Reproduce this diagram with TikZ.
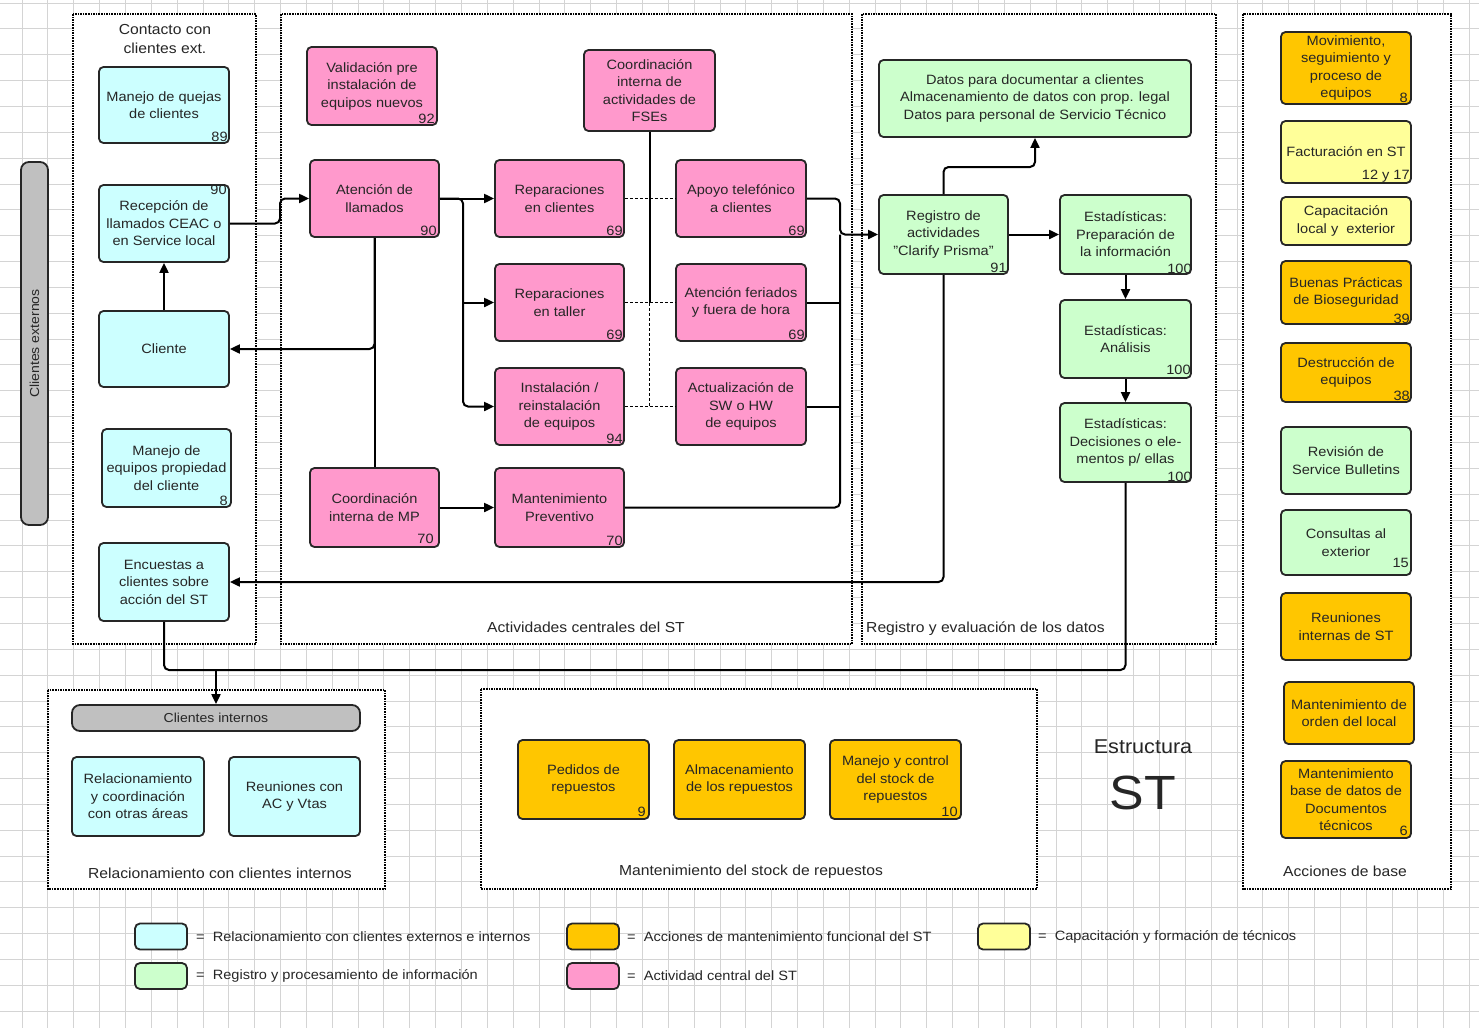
\documentclass[tikz,border=0pt]{standalone}
\usepackage{fontspec}
\setmainfont{Liberation Sans}[FakeStretch=1.08]
\usetikzlibrary{arrows.meta}

\definecolor{cyanc}{HTML}{CCFFFF}
\definecolor{pinkc}{HTML}{FF99CC}
\definecolor{greenc}{HTML}{CCFFCC}
\definecolor{orangec}{HTML}{FFC600}
\definecolor{yellowc}{HTML}{FFFF99}
\definecolor{barc}{HTML}{C0C0C0}
\definecolor{gridc}{HTML}{D4D4D4}
\definecolor{inkc}{HTML}{262626}

\begin{document}
\begin{tikzpicture}[x=1pt,y=-1pt,
  box/.style={draw=inkc, line width=1.8pt, rounded corners=4.5pt, align=center,
    inner sep=1pt, text=inkc, font=\fontsize{13.5}{17.5}\selectfont},
  cbox/.style={box, fill=cyanc},
  pbox/.style={box, fill=pinkc},
  gbox/.style={box, fill=greenc},
  obox/.style={box, fill=orangec},
  ybox/.style={box, fill=yellowc},
  bar/.style={box, fill=barc, rounded corners=8pt},
  num/.style={anchor=south east, inner sep=0pt, text=inkc, font=\fontsize{13.5}{16}\selectfont},
  panel/.style={draw=black, fill=white, line width=1.2pt, dash pattern=on 1.6pt off 1pt},
  plabel/.style={inner sep=0pt, text=inkc, align=center, font=\fontsize{14.5}{19}\selectfont},
  conn/.style={draw=black, line width=2pt, rounded corners=5pt},
  arr/.style={conn, -{Triangle[length=10pt,width=9pt]}},
  dconn/.style={draw=black, line width=1.7pt, dash pattern=on 3pt off 2pt},
  gridline/.style={draw=gridc, line width=0.9pt},
  swatch/.style={box, minimum width=52, minimum height=26, rounded corners=5pt},
  legtext/.style={anchor=west, inner sep=0pt, text=inkc, font=\fontsize{13.5}{16}\selectfont}]

\useasboundingbox (0,0) rectangle (1479,1028);
\fill[white] (0,0) rectangle (1479,1028);

% background grid
\foreach \i in {0,...,57} \draw[gridline] ({-3.85+\i*25.85},0) -- ({-3.85+\i*25.85},1028);
\foreach \j in {0,...,40} \draw[gridline] (0,{3+\j*25.85}) -- (1479,{3+\j*25.85});

% dashed panels
\draw[panel] (73,14) rectangle (256,644);
\draw[panel] (281,14) rectangle (852,644);
\draw[panel] (862,14) rectangle (1216,644);
\draw[panel] (1243,14) rectangle (1451,889);
\draw[panel] (48,690) rectangle (385,889);
\draw[panel] (481,689) rectangle (1037,889);

% panel captions
\node[plabel] (t-contacto) at (165,39) {Contacto con\\clientes ext.};
\node[plabel] (t-centrales) at (586,627) {Actividades centrales del ST};
\node[plabel, anchor=west] (t-registro) at (866,629) {Registro y evaluación de los datos};
\node[plabel] (t-base) at (1345,871) {Acciones de base};
\node[plabel] (t-internos) at (220,873) {Relacionamiento con clientes internos};
\node[plabel] (t-stock) at (751,872) {Mantenimiento del stock de repuestos};
\node[plabel, font=\fontsize{20}{24}\selectfont] (t-estructura) at (1143,747) {Estructura};
\node[plabel, font=\fontsize{48}{52}\selectfont] (t-st) at (1143,793) {ST};

% external clients bar
\node[bar, rotate=90, minimum width=363, minimum height=27, font=\fontsize{13}{16}\selectfont] (cext) at (34.5,343.5) {Clientes externos};

% contact with external clients
\node[cbox, minimum width=130, minimum height=76] (quejas) at (164,105) {Manejo de quejas\\de clientes};
\node[num] (n-quejas) at ([shift={(-2,-2)}]quejas.south east) {89};
\node[cbox, minimum width=130, minimum height=77] (recep) at (164,223.5) {Recepción de\\llamados CEAC o\\en Service local};
\node[num, anchor=north east] (n-recep) at ([shift={(-3,1)}]recep.north east) {90};
\node[cbox, minimum width=130, minimum height=76] (cliente) at (164,349) {Cliente};
\node[cbox, minimum width=129, minimum height=78] (propiedad) at (166.5,468) {Manejo de\\equipos propiedad\\del cliente};
\node[num] (n-propiedad) at ([shift={(-4,-2)}]propiedad.south east) {8};
\node[cbox, minimum width=130, minimum height=78] (encuestas) at (164,582) {Encuestas a\\clientes sobre\\acción del ST};

% core activities
\node[pbox, minimum width=130, minimum height=78] (validacion) at (372,86) {Validación pre\\instalación de\\equipos nuevos};
\node[num] (n-validacion) at ([shift={(-3,-2)}]validacion.south east) {92};
\node[pbox, minimum width=131, minimum height=81] (coordfse) at (649.5,90.5) {Coordinación\\interna de\\actividades de\\FSEs};
\node[pbox, minimum width=129, minimum height=77] (atencion) at (374.5,198.5) {Atención de\\llamados};
\node[num] (n-atencion) at ([shift={(-3,-2)}]atencion.south east) {90};
\node[pbox, minimum width=129, minimum height=77] (repcli) at (559.5,198.5) {Reparaciones\\en clientes};
\node[num] (n-repcli) at ([shift={(-2,-2)}]repcli.south east) {69};
\node[pbox, minimum width=130, minimum height=77] (apoyo) at (741,198.5) {Apoyo telefónico\\a clientes};
\node[num] (n-apoyo) at ([shift={(-2,-2)}]apoyo.south east) {69};
\node[pbox, minimum width=129, minimum height=77] (reptaller) at (559.5,302.5) {Reparaciones\\en taller};
\node[num] (n-reptaller) at ([shift={(-2,-2)}]reptaller.south east) {69};
\node[pbox, minimum width=130, minimum height=77] (feriados) at (741,302.5) {Atención feriados\\y fuera de hora};
\node[num] (n-feriados) at ([shift={(-2,-2)}]feriados.south east) {69};
\node[pbox, minimum width=129, minimum height=77] (instal) at (559.5,406.5) {Instalación /\\reinstalación\\de equipos};
\node[num] (n-instal) at ([shift={(-2,-2)}]instal.south east) {94};
\node[pbox, minimum width=130, minimum height=77] (actual) at (741,406.5) {Actualización de\\SW o HW\\de equipos};
\node[pbox, minimum width=129, minimum height=79] (coordmp) at (374.5,507.5) {Coordinación\\interna de MP};
\node[num] (n-coordmp) at ([shift={(-6,-4)}]coordmp.south east) {70};
\node[pbox, minimum width=129, minimum height=79] (mantprev) at (559.5,507.5) {Mantenimiento\\Preventivo};
\node[num] (n-mantprev) at ([shift={(-2,-2)}]mantprev.south east) {70};

% data recording and evaluation
\node[gbox, minimum width=312, minimum height=77] (datos) at (1035,98.5) {Datos para documentar a clientes\\Almacenamiento de datos con prop. legal\\Datos para personal de Servicio Técnico};
\node[gbox, minimum width=129, minimum height=79] (registro) at (943.5,234.5) {Registro de\\actividades\\"Clarify Prisma"};
\node[num] (n-registro) at ([shift={(-2,-2)}]registro.south east) {91};
\node[gbox, minimum width=131, minimum height=79] (est1) at (1125.5,234.5) {Estadísticas:\\Preparación de\\la información};
\node[num] (n-est1) at ([shift={(0,-1)}]est1.south east) {100};
\node[gbox, minimum width=131, minimum height=78] (est2) at (1125.5,339) {Estadísticas:\\Análisis};
\node[num] (n-est2) at ([shift={(-1,-4)}]est2.south east) {100};
\node[gbox, minimum width=131, minimum height=79] (est3) at (1125.5,442.5) {Estadísticas:\\Decisiones o ele-\\mentos p/ ellas};
\node[num] (n-est3) at ([shift={(0,-1)}]est3.south east) {100};

% base actions
\node[obox, minimum width=130, minimum height=72] (mov) at (1346,68) {Movimiento,\\seguimiento y\\proceso de\\equipos};
\node[num] (n-mov) at ([shift={(-4,-2)}]mov.south east) {8};
\node[ybox, minimum width=130, minimum height=62] (fact) at (1346,152) {Facturación en ST};
\node[num] (n-fact) at ([shift={(-2,-1)}]fact.south east) {12 y 17};
\node[ybox, minimum width=130, minimum height=48] (capac) at (1346,221) {Capacitación\\local y \ exterior};
\node[obox, minimum width=130, minimum height=63] (buenas) at (1346,292.5) {Buenas Prácticas\\de Bioseguridad};
\node[num] (n-buenas) at ([shift={(-2,-1)}]buenas.south east) {39};
\node[obox, minimum width=130, minimum height=59] (destr) at (1346,372.5) {Destrucción de\\equipos};
\node[num] (n-destr) at ([shift={(-2,-2)}]destr.south east) {38};
\node[gbox, minimum width=130, minimum height=67] (revision) at (1346,460.5) {Revisión de\\Service Bulletins};
\node[gbox, minimum width=130, minimum height=65] (consultas) at (1346,542.5) {Consultas al\\exterior};
\node[num] (n-consultas) at ([shift={(-3,-8)}]consultas.south east) {15};
\node[obox, minimum width=130, minimum height=67] (reuniones) at (1346,626.5) {Reuniones\\internas de ST};
\node[obox, minimum width=130, minimum height=62] (orden) at (1349,713) {Mantenimiento de\\orden del local};
\node[obox, minimum width=130, minimum height=77] (mantbase) at (1346,799.5) {Mantenimiento\\base de datos de\\Documentos\\técnicos};
\node[num] (n-mantbase) at ([shift={(-4,-3)}]mantbase.south east) {6};

% internal clients
\node[bar, minimum width=288, minimum height=26, font=\fontsize{13}{16}\selectfont] (cint) at (216,718) {Clientes internos};
\node[cbox, minimum width=132, minimum height=79] (relac) at (138,796.5) {Relacionamiento\\y coordinación\\con otras áreas};
\node[cbox, minimum width=131, minimum height=79] (reunac) at (294.5,796.5) {Reuniones con\\AC y Vtas};

% spare parts stock
\node[obox, minimum width=131, minimum height=79] (pedidos) at (583.5,779.5) {Pedidos de\\repuestos};
\node[num] (n-pedidos) at ([shift={(-4,-3)}]pedidos.south east) {9};
\node[obox, minimum width=131, minimum height=79] (almac) at (739.5,779.5) {Almacenamiento\\de los repuestos};
\node[obox, minimum width=131, minimum height=79] (manejo) at (895.5,779.5) {Manejo y control\\del stock de\\repuestos};
\node[num] (n-manejo) at ([shift={(-4,-3)}]manejo.south east) {10};

% legend
\node[swatch, fill=cyanc] (sw-rel) at (161,936.5) {};
\node[legtext] (lt-rel) at (196,936.5) {=\ \ Relacionamiento con clientes externos e internos};
\node[swatch, fill=orangec] (sw-acc) at (593,936.5) {};
\node[legtext] (lt-acc) at (627,936.5) {=\ \ Acciones de mantenimiento funcional del ST};
\node[swatch, fill=yellowc] (sw-cap) at (1004,936.5) {};
\node[legtext] (lt-cap) at (1038,936.5) {=\ \ Capacitación y formación de técnicos};
\node[swatch, fill=greenc] (sw-reg) at (161,976) {};
\node[legtext] (lt-reg) at (196,976) {=\ \ Registro y procesamiento de información};
\node[swatch, fill=pinkc] (sw-act) at (593,976) {};
\node[legtext] (lt-act) at (627,976) {=\ \ Actividad central del ST};

% helper points for the connectors
\coordinate (bend-in) at (280,223.5);
\coordinate (fork-mid) at (463,302.5);
\coordinate (fork-end) at (463,406.5);
\coordinate (fse-mid) at (649.5,302.5);
\coordinate (fse-end) at (649.5,406.5);
\coordinate (bus-in) at (840,234.5);
\coordinate (reg-up) at (943.5,167);
\coordinate (low-left) at (164,670);
\coordinate (low-right) at (1125.5,670);
\coordinate (low-drop) at (216,670);

% connectors
\draw[arr] (recep.east) -- (bend-in) |- (atencion.west);
\draw[arr] (cliente.north) -- (recep.south);
\draw[arr] (atencion.south) |- (cliente.east);
\draw[conn] (coordmp.north) -- (atencion.south);
\draw[arr] (atencion.east) -- (repcli.west);
\draw[arr] (atencion.east) -| (fork-end) -- (instal.west);
\draw[arr] (fork-mid) -- (reptaller.west);
\draw[arr] (coordmp.east) -- (mantprev.west);

\draw[conn] (coordfse.south) -- (fse-mid);
\draw[dconn] (fse-mid) -- (fse-end);
\draw[dconn] (repcli.east) -- (apoyo.west);
\draw[dconn] (reptaller.east) -- (feriados.west);
\draw[dconn] (instal.east) -- (actual.west);

\draw[arr] (apoyo.east) -| (bus-in) -- (registro.west);
\draw[conn] (mantprev.east) -| (bus-in);
\draw[conn] (feriados.east) -- (feriados.east -| bus-in);
\draw[conn] (actual.east) -- (actual.east -| bus-in);

\draw[arr] (registro.north) -- (reg-up) -| (datos.south);
\draw[arr] (registro.east) -- (est1.west);
\draw[arr] (est1.south) -- (est2.north);
\draw[arr] (est2.south) -- (est3.north);
\draw[arr] (registro.south) |- (encuestas.east);

\draw[conn] (encuestas.south) -- (low-left) -- (low-right) -- (est3.south);
\draw[arr] (low-drop) -- (cint.north);

\end{tikzpicture}
\end{document}
